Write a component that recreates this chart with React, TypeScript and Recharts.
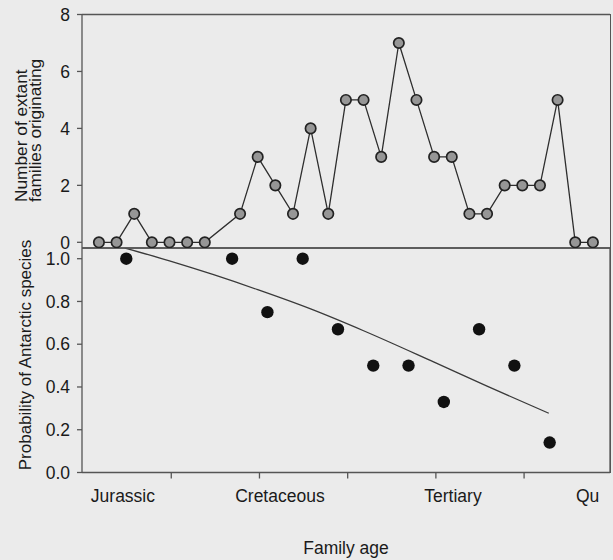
import React from 'react';
import {
  LineChart,
  Line,
  XAxis,
  YAxis,
  ComposedChart,
  Scatter,
  CartesianGrid,
} from 'recharts';

// ---- data ----
const originSlots = [0, 1, 2, 3, 4, 5, 6, 7, 8, 9, 10, 11, 12, 13, 14, 15, 16, 17, 18, 19, 20, 21, 22, 23, 24, 25, 26, 27, 28];
const originations: (number | null)[] = [0, 0, 1, 0, 0, 0, 0, null, 1, 3, 2, 1, 4, 1, 5, 5, 3, 7, 5, 3, 3, 1, 1, 2, 2, 2, 5, 0, 0];

const binCentres = [1.55, 7.55, 9.55, 11.55, 13.55, 15.55, 17.55, 19.55, 21.55, 23.55, 25.55];
const antarcticProb = [1.0, 1.0, 0.75, 1.0, 0.67, 0.5, 0.5, 0.33, 0.67, 0.5, 0.14];

const fitX = [1.47, 4, 6.5, 9, 12, 15, 19, 22, 25.5];
const fitP = [1.05, 0.99, 0.925, 0.855, 0.765, 0.663, 0.516, 0.404, 0.277];

const stageTicks = [4.1, 9.1, 14.1, 19.1, 24.1];
const eraLabels = ['Jurassic', 'Cretaceous', 'Tertiary', 'Qu'];
const eraPositions = [1.36, 10.26, 20.07, 27.7];
const countTicks = [0, 2, 4, 6, 8];
const probTicks = [0, 0.2, 0.4, 0.6, 0.8, 1.0];

const xDomain: [number, number] = [-0.96, 28.97];
const countDomain: [number, number] = [-0.2, 8];
const probDomain: [number, number] = [0, 1.05];

const topData = originSlots
  .map((x, i) => ({ x, n: originations[i] }))
  .filter((d) => d.n !== null);
const binData = binCentres.map((x, i) => ({ x, p: antarcticProb[i] }));
const fitData = fitX.map((x, i) => ({ x, p: fitP[i] }));

const AXIS = '#555';
const TEXT = '#1a1a1a';
const FS = 17.5;
const CHART_W = 613;
const RIGHT_M = 3;

const TopYLabel = (props: any) => {
  const vb = props.viewBox || { x: 0, y: 14.5 };
  return (
    <g transform={`translate(${vb.x + 26.5},${vb.y + 187.5}) rotate(-90)`}>
      <text x={0} y={0} textAnchor="start" fontSize={17.3} fill={TEXT}>
        Number of extant
      </text>
      <text x={0} y={14.5} textAnchor="start" fontSize={17.3} fill={TEXT}>
        families originating
      </text>
    </g>
  );
};

const BottomYLabel = (props: any) => {
  const vb = props.viewBox || { x: 0, y: 8 };
  return (
    <g transform={`translate(${vb.x + 31},${vb.y + 107}) rotate(-90)`}>
      <text x={0} y={0} textAnchor="middle" fontSize={17} fill={TEXT}>
        Probability of Antarctic species
      </text>
    </g>
  );
};

const BlackDot = (props: any) => {
  if (props.cx == null || props.cy == null) return null;
  return <circle cx={props.cx} cy={props.cy} r={6.2} fill="#111" />;
};

export default function App() {
  return (
    <div
      style={{
        position: 'absolute',
        left: 0,
        top: 0,
        width: 613,
        height: 560,
        background: '#ebebeb',
        fontFamily: '"Liberation Sans", Arial, sans-serif',
        overflow: 'hidden',
      }}
    >
      <div style={{ position: 'absolute', left: 0, top: 240 }}>
        <ComposedChart
          width={CHART_W}
          height={320}
          margin={{ top: 8, right: RIGHT_M, bottom: 0.5, left: 0 }}
          style={{ overflow: 'visible' }}
        >
          <CartesianGrid
            horizontalValues={[probDomain[1]]}
            verticalValues={[xDomain[1]]}
            stroke={AXIS}
            strokeWidth={1.3}
            strokeOpacity={1}
          />
          <XAxis
            type="number"
            dataKey="x"
            domain={xDomain}
            ticks={stageTicks}
            tickFormatter={() => ''}
            tickSize={6}
            height={17}
            stroke={AXIS}
            strokeWidth={1.3}
            allowDataOverflow
            interval={0}
          />
          <XAxis
            xAxisId="era"
            type="number"
            dataKey="x"
            domain={xDomain}
            ticks={eraPositions}
            tickFormatter={(v: number) => eraLabels[eraPositions.indexOf(v)] ?? ''}
            axisLine={false}
            tickLine={false}
            tickSize={0}
            tickMargin={0}
            height={70}
            interval={0}
            allowDataOverflow
            tick={{ fontSize: FS, fill: TEXT }}
            label={{ value: 'Family age', position: 'insideBottom', offset: 5.6, fontSize: FS, fill: TEXT }}
          />
          <YAxis
            type="number"
            dataKey="p"
            domain={probDomain}
            ticks={probTicks}
            tickFormatter={(v: number) => v.toFixed(1)}
            width={82}
            tickSize={5}
            tickMargin={7}
            stroke={AXIS}
            strokeWidth={1.3}
            interval={0}
            allowDataOverflow
            tick={{ fontSize: FS, fill: TEXT }}
            label={BottomYLabel}
          />
          <Line
            data={fitData}
            dataKey="p"
            type="monotone"
            stroke="#3a3a3a"
            strokeWidth={1.3}
            dot={false}
            isAnimationActive={false}
          />
          <Scatter data={binData} dataKey="p" shape={BlackDot} isAnimationActive={false} />
        </ComposedChart>
      </div>
      <div style={{ position: 'absolute', left: 0, top: 0 }}>
        <LineChart
          width={CHART_W}
          height={250}
          data={topData}
          margin={{ top: 14.5, right: RIGHT_M, bottom: 1, left: 0 }}
          style={{ overflow: 'visible' }}
        >
          <CartesianGrid
            horizontalValues={[countDomain[1]]}
            verticalValues={[xDomain[1]]}
            stroke={AXIS}
            strokeWidth={1.3}
            strokeOpacity={1}
          />
          <XAxis
            type="number"
            dataKey="x"
            domain={xDomain}
            height={1}
            tick={false}
            tickLine={false}
            stroke={AXIS}
            strokeWidth={1.3}
            allowDataOverflow
          />
          <YAxis
            type="number"
            dataKey="n"
            domain={countDomain}
            ticks={countTicks}
            width={82}
            tickSize={5}
            tickMargin={7}
            stroke={AXIS}
            strokeWidth={1.3}
            interval={0}
            allowDataOverflow
            tick={{ fontSize: FS, fill: TEXT }}
            label={TopYLabel}
          />
          <Line
            dataKey="n"
            type="linear"
            stroke="#2e2e2e"
            strokeWidth={1.3}
            dot={{ r: 5.2, fill: '#969696', stroke: '#222', strokeWidth: 1.7 }}
            connectNulls
            isAnimationActive={false}
          />
        </LineChart>
      </div>
      {/* panel frame (top and right edges), drawn above both charts */}
      <div
        style={{
          position: 'absolute',
          left: 82,
          top: 14,
          width: 529,
          height: 459,
          borderTop: `1px solid ${AXIS}`,
          borderRight: `1px solid ${AXIS}`,
          boxSizing: 'border-box',
          pointerEvents: 'none',
          zIndex: 5,
        }}
      />
    </div>
  );
}
